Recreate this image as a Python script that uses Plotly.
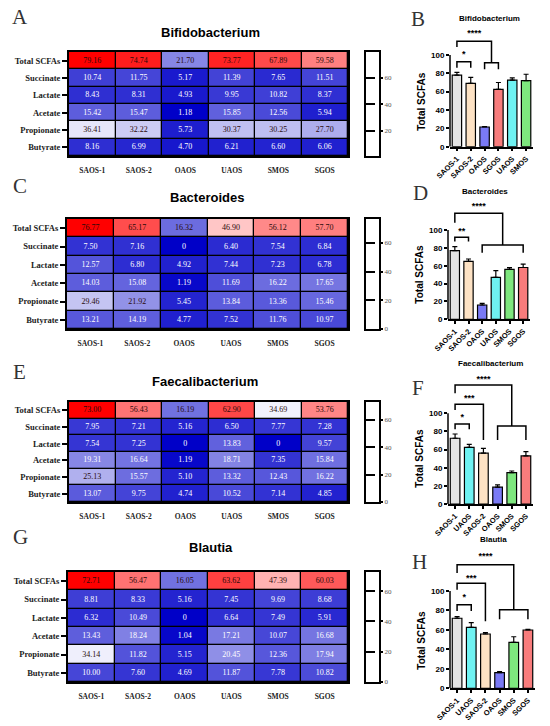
import plotly.graph_objects as go

W, H = 550, 726

# heatmap data (rows = acids, columns = groups)
groups = ["SAOS-1", "SAOS-2", "OAOS", "UAOS", "SMOS", "SGOS"]
acids = ["Total SCFAs", "Succinate", "Lactate", "Acetate", "Propionate", "Butyrate"]
bacteria = ["Bifidobacterium", "Bacteroides", "Faecalibacterium", "Blautia"]

bifido_heat = [
    [79.16, 74.74, 21.70, 73.77, 67.89, 59.58],
    [10.74, 11.75, 5.17, 11.39, 7.65, 11.51],
    [8.43, 8.31, 4.93, 9.95, 10.82, 8.37],
    [15.42, 15.47, 1.18, 15.85, 12.56, 5.94],
    [36.41, 32.22, 5.73, 30.37, 30.25, 27.70],
    [8.16, 6.99, 4.70, 6.21, 6.60, 6.06],
]
bactero_heat = [
    [76.77, 65.17, 16.32, 46.90, 56.12, 57.70],
    [7.50, 7.16, 0, 6.40, 7.54, 6.84],
    [12.57, 6.80, 4.92, 7.44, 7.23, 6.78],
    [14.03, 15.08, 1.19, 11.69, 16.22, 17.65],
    [29.46, 21.92, 5.45, 13.84, 13.36, 15.46],
    [13.21, 14.19, 4.77, 7.52, 11.76, 10.97],
]
faecali_heat = [
    [73.00, 56.43, 16.19, 62.90, 34.69, 53.76],
    [7.95, 7.21, 5.16, 6.50, 7.77, 7.28],
    [7.54, 7.25, 0, 13.83, 0, 9.57],
    [19.31, 16.64, 1.19, 18.71, 7.35, 15.84],
    [25.13, 15.57, 5.10, 13.32, 12.43, 16.22],
    [13.07, 9.75, 4.74, 10.52, 7.14, 4.85],
]
blautia_heat = [
    [72.71, 56.47, 16.05, 63.62, 47.39, 60.03],
    [8.81, 8.33, 5.16, 7.45, 9.69, 8.68],
    [6.32, 10.49, 0, 6.64, 7.49, 5.91],
    [13.43, 18.24, 1.04, 17.21, 10.07, 16.68],
    [34.14, 11.82, 5.15, 20.45, 12.36, 17.94],
    [10.00, 7.60, 4.69, 11.87, 7.78, 10.82],
]

# bar chart data (Total SCFAs, mean and SD)
bifido_bar_groups = ["SAOS-1", "SAOS-2", "OAOS", "SGOS", "UAOS", "SMOS"]
bifido_bar_mean = [78.0, 69.0, 21.5, 62.5, 72.5, 72.0]
bifido_bar_sd = [3.0, 6.5, 0.5, 7.5, 2.5, 7.0]

bactero_bar_groups = ["SAOS-1", "SAOS-2", "OAOS", "UAOS", "SMOS", "SGOS"]
bactero_bar_mean = [77.0, 64.8, 16.0, 47.0, 56.0, 58.0]
bactero_bar_sd = [4.3, 2.7, 1.9, 7.5, 1.8, 3.8]

faecali_bar_groups = ["SAOS-1", "UAOS", "SAOS-2", "OAOS", "SMOS", "SGOS"]
faecali_bar_mean = [72.5, 62.5, 56.0, 18.5, 34.6, 53.0]
faecali_bar_sd = [4.7, 3.3, 5.4, 2.6, 1.8, 4.7]

blautia_bar_groups = ["SAOS-1", "UAOS", "SAOS-2", "OAOS", "SMOS", "SGOS"]
blautia_bar_mean = [72.0, 62.7, 55.8, 16.1, 47.3, 59.9]
blautia_bar_sd = [1.6, 4.8, 1.4, 1.0, 5.7, 0.7]

# significance brackets: (from bar, to bar, top, left end, right end, stars, star y)
bifido_brackets = [(0, 1, 92.7, 86, 86, "*", 100), (2, 3, 91.6, 84.4, 84.4, "", 0),
                   (0, 2.5, 115, 108.7, 91.6, "****", 123)]
bactero_brackets = [(0, 1, 91.8, 87, 87, "**", 98), (2, 5, 83.2, 74.6, 74.6, "", 0),
                    (0, 3.5, 118.7, 108, 83.2, "****", 126)]
faecali_brackets = [(0, 1, 88.2, 82.4, 82.4, "*", 95), (0, 2, 110, 103.7, 70.6, "***", 116),
                    (3, 5, 86, 70.6, 70.6, "", 0), (0, 4, 131.3, 122, 86, "****", 137)]
blautia_brackets = [(0, 1, 85.9, 79.5, 79.5, "*", 93), (0, 2, 108, 101.4, 69, "***", 113),
                    (3, 5, 80.7, 71, 71, "", 0), (0, 4, 127, 118.5, 80.7, "****", 135)]

group_colors = {"SAOS-1": "#e4e4e4", "SAOS-2": "#fde2c4", "OAOS": "#7a7af5",
                "SGOS": "#f87c7c", "UAOS": "#6ff2f2", "SMOS": "#7ee77e"}

heat_data = [bifido_heat, bactero_heat, faecali_heat, blautia_heat]
bar_data = [
    (bifido_bar_groups, bifido_bar_mean, bifido_bar_sd, bifido_brackets),
    (bactero_bar_groups, bactero_bar_mean, bactero_bar_sd, bactero_brackets),
    (faecali_bar_groups, faecali_bar_mean, faecali_bar_sd, faecali_brackets),
    (blautia_bar_groups, blautia_bar_mean, blautia_bar_sd, blautia_brackets),
]

# pixel layout of each row of panels (by = pixel rows of y=0 and y=100)
panels = [
    dict(hx=(69, 348), hy=(52, 156), title=(210, 33), letter=("A", 20, 17),
         bx=(450, 533), by=(146.7, 55), btitle=(489, 18), bletter=("B", 418, 19)),
    dict(hx=(67, 348), hy=(219, 329), title=(207, 198), letter=("C", 20, 186),
         bx=(448, 530), by=(319.3, 230), btitle=(485, 191), bletter=("D", 420, 193)),
    dict(hx=(69, 348), hy=(402, 502), title=(205, 381), letter=("E", 19, 372),
         bx=(448, 533), by=(504, 413.3), btitle=(490, 364), bletter=("F", 418, 388)),
    dict(hx=(68, 348), hy=(572, 682), title=(211, 547), letter=("G", 20, 537),
         bx=(450, 535), by=(688.3, 591), btitle=(493, 539), bletter=("H", 419, 562)),
]

SERIF = "Liberation Serif"
SANS = "Liberation Sans"
colorscale = [[0, "rgb(0,0,200)"], [0.5, "rgb(255,255,255)"], [1, "rgb(255,0,0)"]]
YTOP = 140  # bar axes run higher than 100 so the brackets are not clipped


def dx(a, b):
    return [a / W, b / W]


def dy(top, bottom):
    return [1 - bottom / H, 1 - top / H]


def name(n):
    return "" if n == 1 else str(n)


fig = go.Figure()
shapes, annotations, axes = [], [], {}

for k, p in enumerate(panels):
    z = heat_data[k]
    zmin = min(min(r) for r in z)
    zmax = max(max(r) for r in z)
    nh, nc, nb = 3 * k + 1, 3 * k + 2, 3 * k + 3
    sh, sc, sb = name(nh), name(nc), name(nb)

    # heatmap
    fig.add_trace(go.Heatmap(
        z=z, x=list(range(6)), y=list(range(6)), xaxis="x" + sh, yaxis="y" + sh,
        colorscale=colorscale, zmin=zmin, zmax=zmax, showscale=False,
        xgap=1.3, ygap=1.3, hoverinfo="skip"))
    tx, ty, tt, tc = [], [], [], []
    for i, row in enumerate(z):
        for j, v in enumerate(row):
            tx.append(j)
            ty.append(i)
            tt.append("0" if v == 0 else f"{v:.2f}")
            tc.append("#2a0a0a" if (i == 0 or v > 21) else "white")
    fig.add_trace(go.Scatter(
        x=tx, y=ty, text=tt, mode="text", xaxis="x" + sh, yaxis="y" + sh,
        textfont=dict(family=SERIF, size=8, color=tc), hoverinfo="skip",
        showlegend=False))
    shapes.append(dict(type="rect", xref="x" + sh, yref="y" + sh, x0=-0.5, x1=5.5,
                       y0=-0.5, y1=5.5, fillcolor="black", line=dict(width=0),
                       layer="below"))
    axes["xaxis" + sh] = dict(
        domain=dx(*p["hx"]), anchor="y" + sh, range=[-0.5, 5.5], automargin=False,
        tickvals=list(range(6)), ticktext=groups, ticks="outside", ticklen=6,
        tickcolor="rgba(0,0,0,0)", showgrid=False, zeroline=False,
        showline=True, mirror=True, linewidth=2, linecolor="black",
        tickfont=dict(family=SERIF, size=7.5, color="#222", weight="bold"))
    axes["yaxis" + sh] = dict(
        domain=dy(*p["hy"]), anchor="x" + sh, range=[5.5, -0.5], automargin=False,
        tickvals=list(range(6)), ticktext=acids, ticks="outside", ticklen=5,
        tickwidth=2, tickcolor="black", showgrid=False, zeroline=False,
        showline=True, mirror=True, linewidth=2, linecolor="black",
        tickfont=dict(family=SERIF, size=8.5, color="#222", weight="bold"))

    # empty colour bar box
    axes["xaxis" + sc] = dict(
        domain=dx(366, 379), anchor="y" + sc, range=[0, 1], showticklabels=False,
        automargin=False, ticks="", showgrid=False, zeroline=False, showline=True,
        mirror=True, linewidth=2, linecolor="black")
    axes["yaxis" + sc] = dict(
        domain=dy(*p["hy"]), anchor="x" + sc, range=[zmin, zmax], side="right",
        automargin=False, tickvals=[0, 20, 40, 60], ticks="outside", ticklen=2,
        tickwidth=1.5, tickcolor="black", showgrid=True, gridcolor="black",
        griddash="dash", gridwidth=1.5, zeroline=False, showline=True, mirror=True,
        linewidth=2, linecolor="black",
        tickfont=dict(family=SERIF, size=7, color="#555"))
    fig.add_trace(go.Scatter(x=[], y=[], xaxis="x" + sc, yaxis="y" + sc,
                             showlegend=False))

    # bar chart
    bg, bm, bs, brk = bar_data[k]
    y0px, y100px = p["by"]
    ytop_px = y0px - (y0px - y100px) * YTOP / 100
    fig.add_trace(go.Bar(
        x=list(range(6)), y=bm, xaxis="x" + sb, yaxis="y" + sb, width=0.68,
        marker=dict(color=[group_colors[g] for g in bg],
                    line=dict(color="black", width=1.2)),
        error_y=dict(type="data", array=bs, arrayminus=[0] * 6, symmetric=False,
                     color="black", thickness=1.2, width=2.5),
        showlegend=False, hoverinfo="skip"))
    for (x1, x2, top, lb, rb, lab, sy) in brk:
        fig.add_trace(go.Scatter(
            x=[x1, x1, x2, x2], y=[lb, top, top, rb], mode="lines",
            xaxis="x" + sb, yaxis="y" + sb, cliponaxis=False,
            line=dict(color="black", width=1.5), showlegend=False, hoverinfo="skip"))
        if lab:
            fig.add_trace(go.Scatter(
                x=[(x1 + x2) / 2], y=[sy], text=[lab], mode="text",
                xaxis="x" + sb, yaxis="y" + sb, cliponaxis=False,
                textfont=dict(family=SANS, size=9, color="black", weight="bold"),
                showlegend=False, hoverinfo="skip"))
    # y axis line only spans 0..100
    shapes.append(dict(type="line", xref="x" + sb + " domain", yref="y" + sb,
                       x0=0, x1=0, y0=0, y1=100,
                       line=dict(color="black", width=1.5)))
    axes["xaxis" + sb] = dict(
        domain=dx(*p["bx"]), anchor="y" + sb, range=[-0.5, 5.5], automargin=False,
        tickvals=list(range(6)), ticktext=bg, tickangle=-45, ticks="outside",
        ticklen=3, tickwidth=1.5, tickcolor="black", showgrid=False, zeroline=False,
        showline=True, linewidth=1.5, linecolor="black",
        tickfont=dict(family=SANS, size=7.5, color="black", weight="bold"))
    axes["yaxis" + sb] = dict(
        domain=dy(ytop_px, y0px), anchor="x" + sb, range=[0, YTOP], automargin=False,
        tickvals=[0, 20, 40, 60, 80, 100], ticks="outside", ticklen=3, tickwidth=1.5,
        tickcolor="black", showgrid=False, zeroline=False, showline=False,
        tickfont=dict(family=SANS, size=8, color="black", weight="bold"))
    annotations.append(dict(
        text="Total SCFAs", x=(p["bx"][0] - 28) / W, y=1 - (y0px + y100px) / 2 / H,
        xref="paper", yref="paper", showarrow=False, textangle=-90,
        xanchor="center", yanchor="middle",
        font=dict(family=SANS, size=10, color="black", weight="bold")))

    # titles and panel letters
    annotations.append(dict(
        text=bacteria[k], x=p["title"][0] / W, y=1 - p["title"][1] / H,
        xref="paper", yref="paper", showarrow=False, xanchor="center",
        yanchor="middle", font=dict(family=SANS, size=13, color="black", weight="bold")))
    annotations.append(dict(
        text=bacteria[k], x=p["btitle"][0] / W, y=1 - p["btitle"][1] / H,
        xref="paper", yref="paper", showarrow=False, xanchor="center",
        yanchor="middle", font=dict(family=SANS, size=8, color="black", weight="bold")))
    for letter, lx, ly in (p["letter"], p["bletter"]):
        annotations.append(dict(
            text=letter, x=lx / W, y=1 - ly / H, xref="paper", yref="paper",
            showarrow=False, xanchor="center", yanchor="middle",
            font=dict(family=SERIF, size=21, color="#333")))

fig.update_layout(
    width=W, height=H, margin=dict(l=0, r=0, t=0, b=0),
    paper_bgcolor="white", plot_bgcolor="white", showlegend=False,
    shapes=shapes, annotations=annotations, **axes)

# drop the browser's default page margin so the figure fills the window
fig.write_html("out.html", config={"displayModeBar": False},
               post_script="document.body.style.margin = '0';")
